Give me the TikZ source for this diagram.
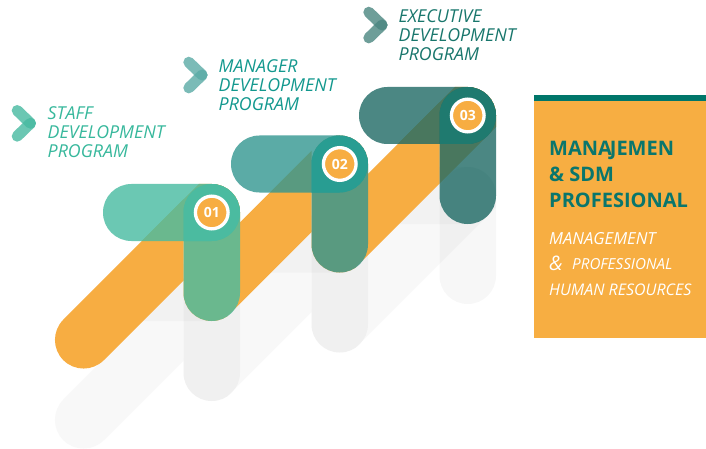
\documentclass[tikz,border=0pt]{standalone}
\usepackage{fontspec}
\setmainfont{Open Sans}
\definecolor{orng}{RGB}{247,173,66}
\definecolor{cA}{RGB}{71,187,161}
\definecolor{cB}{RGB}{50,150,144}
\definecolor{cC}{RGB}{30,106,101}
\definecolor{sqA}{RGB}{75,187,160}
\definecolor{sqB}{RGB}{40,157,146}
\definecolor{sqC}{RGB}{31,122,111}
\definecolor{chA}{RGB}{71,186,161}
\definecolor{chB}{RGB}{90,171,166}
\definecolor{chC}{RGB}{74,134,128}
\definecolor{txA}{RGB}{55,184,156}
\definecolor{txB}{RGB}{18,152,142}
\definecolor{txC}{RGB}{24,118,108}
\definecolor{panel}{RGB}{247,174,66}
\definecolor{strip}{RGB}{0,118,106}
\definecolor{ttl}{RGB}{10,118,108}
\definecolor{shband}{RGB}{248,248,248}
\definecolor{shbox}{RGB}{242,242,242}
\newcommand\bandset[1]{%
 \begin{scope}\clip (0,0) rectangle (183.5,470);
  \draw[#1,line width=57.3pt,line cap=round] (83.6,339.9) -- (263.6,159.9);\end{scope}
 \begin{scope}\clip[rounded corners=28.2pt] (183.5,184) rectangle (240,321);
  \draw[#1,line width=57.3pt] (83.6,339.9) -- (263.6,159.9);
  \draw[#1,line width=57.3pt] (150,353) -- (400,103);\end{scope}
 \begin{scope}\clip[rounded corners=28.4pt] (103,184) rectangle (240,241);
  \draw[#1,line width=57.3pt] (83.6,339.9) -- (263.6,159.9);\end{scope}
 \begin{scope}\clip (236,0) rectangle (311.5,470);
  \draw[#1,line width=57.3pt] (150,353) -- (400,103);\end{scope}
 \begin{scope}\clip[rounded corners=28.2pt] (311.5,135.5) rectangle (368,272.5);
  \draw[#1,line width=57.3pt] (150,353) -- (400,103);
  \draw[#1,line width=57.3pt] (280,302.5) -- (520,62.5);\end{scope}
 \begin{scope}\clip (364,0) rectangle (439.5,470);
  \draw[#1,line width=57.3pt] (280,302.5) -- (520,62.5);\end{scope}
 \begin{scope}\clip[rounded corners=28.2pt] (439.5,87) rectangle (496,224);
  \draw[#1,line width=57.3pt] (280,302.5) -- (520,62.5);\end{scope}
 \begin{scope}\clip[rounded corners=28.4pt] (359,87) rectangle (496,144);
  \draw[#1,line width=57.3pt] (280,302.5) -- (520,62.5);\end{scope}
}
\begin{document}
\begin{tikzpicture}[x=1pt,y=-1pt,
  lbl/.style={anchor=north west, inner sep=0pt, align=left, font=\itshape\fontsize{17.8}{19}\selectfont},
  numc/.style={circle, fill=orng, draw=white, line width=3.3pt, minimum size=32.7pt, inner sep=0pt, text=white, font=\bfseries\fontsize{14}{14}\selectfont},
  chev/.style={line width=11pt, line cap=round, opacity=0.8},
  rbox/.style={rounded corners=28.4pt},
  rbar/.style={rounded corners=28.2pt},
  sub/.style={anchor=base west, inner sep=0pt, text=white, font=\itshape}
]
\useasboundingbox (0,0) rectangle (706,449);
\fill[white] (0,0) rectangle (706,449);

% shadow layer
\begin{scope}[shift={(0,80)}]
  \bandset{shband}
  \foreach \i in {0,1,2}{
    \begin{scope}[shift={(128*\i,-48.5*\i)}]
      \fill[shbox,rbox] (103,184) rectangle (240,241);
      \fill[black,opacity=0.03,rbar] (183.5,184) rectangle (240,321);
    \end{scope}
  }
\end{scope}

% orange ribbon
\bandset{orng}

% steps
\foreach \i/\c/\s in {0/cA/sqA,1/cB/sqB,2/cC/sqC}{
  \begin{scope}[shift={(128*\i,-48.5*\i)}]
    \fill[\c,opacity=0.8,rbox] (103,184) rectangle (240,241);
    \fill[\c,opacity=0.8,rbar] (183.5,184) rectangle (240,321);
    \begin{scope}
      \clip[rbox] (103,184) rectangle (240,241);
      \fill[\s,rbar] (183.5,184) rectangle (240,321);
    \end{scope}
  \end{scope}
}
\node[numc] (n1) at (211.75,212.5) {01};
\node[numc] (n2) at (339.75,164) {02};
\node[numc] (n3) at (467.75,115.5) {03};

% chevrons
\draw[chA,chev] (17.2,110.5) -- (30.5,123.3);
\draw[chA,chev] (30.5,123.3) -- (17.2,136.2);
\draw[chB,chev] (188.8,62.2) -- (202.1,75);
\draw[chB,chev] (202.1,75) -- (188.8,87.9);
\draw[chC,chev] (368.8,12.2) -- (382.1,25);
\draw[chC,chev] (382.1,25) -- (368.8,37.9);

% labels
\node[lbl,text=txA] (staff) at (47.5,106.8) {STAFF\\DEVELOPMENT\\PROGRAM};
\node[lbl,text=txB] (mgr) at (218.5,59.5) {MANAGER\\DEVELOPMENT\\PROGRAM};
\node[lbl,text=txC] (exec) at (398.5,9.5) {EXECUTIVE\\DEVELOPMENT\\PROGRAM};

% panel
\fill[panel] (534,101) rectangle (706,338);
\fill[strip] (534,95) rectangle (706,101);
\node[anchor=north west, inner sep=0pt, align=left, text=ttl, font=\bfseries\fontsize{20}{26}\selectfont] (title) at (549,140.5) {MANA\kern-2pt JEMEN\\\& SDM\\PROFESIONAL};
\node[sub,font=\itshape\fontsize{16.6}{16.6}\selectfont] (s1) at (549,244) {MANAGEMENT};
\node[sub,font=\itshape\fontsize{20}{20}\selectfont] (s2) at (549,270) {\&};
\node[sub,font=\itshape\fontsize{15.2}{15.2}\selectfont] (s3) at (572,269.5) {PROFESSIONAL};
\node[sub,font=\itshape\fontsize{16}{16}\selectfont] (s4) at (549,295) {HUMAN RESOURCES};
\end{tikzpicture}
\end{document}
